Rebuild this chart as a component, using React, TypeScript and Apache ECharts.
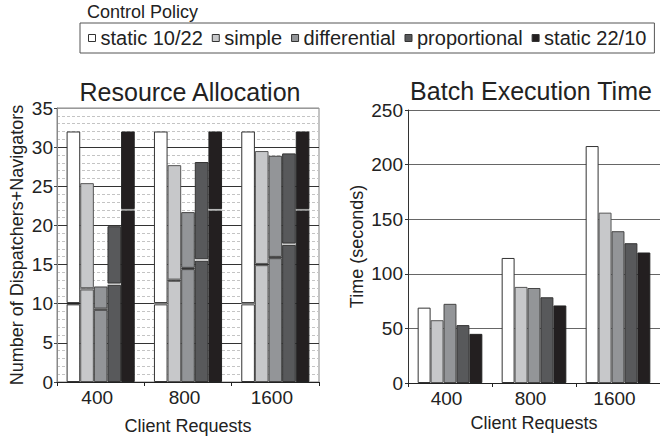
import React, { useEffect, useRef } from "react";
import * as echarts from "echarts";

const categories = ["400", "800", "1600"];
const policies = ["static 10/22", "simple", "differential", "proportional", "static 22/10"];
const colors = ["#ffffff", "#c7c8ca", "#939598", "#58595b", "#231f20"];
const borderColors = ["#333333", "#555555", "#444444", "#333333", "#222222"];
// colour of the split line inside each bar (policy x category)
const dividerColors = [
  ["#222222", "#888888", "#888888"],
  ["#666666", "#333333", "#333333"],
  ["#333333", "#333333", "#444444"],
  ["#c8c8c8", "#eeeeee", "#c8c8c8"],
  ["#aaaaaa", "#cccccc", "#aaaaaa"],
];

// Resource allocation: total (dispatchers + navigators) and the inner split line
const totalStatic1022 = [32, 32, 32];
const totalSimple = [25.4, 27.7, 29.5];
const totalDifferential = [12.2, 21.7, 28.9];
const totalProportional = [19.9, 28.1, 29.2];
const totalStatic2210 = [32, 32, 32];

const splitStatic1022 = [10, 10, 10];
const splitSimple = [11.9, 13.0, 15.0];
const splitDifferential = [9.3, 14.5, 15.9];
const splitProportional = [12.5, 15.6, 17.6];
const splitStatic2210 = [22, 22, 22];

// Batch execution time (seconds)
const timeStatic1022 = [69, 114.5, 217];
const timeSimple = [57.5, 88, 156];
const timeDifferential = [72.5, 87, 139];
const timeProportional = [53, 78.5, 128];
const timeStatic2210 = [45, 71, 119.5];

const allocTicks = [0, 5, 10, 15, 20, 25, 30, 35];
const timeTicks = [0, 50, 100, 150, 200, 250];

const totals = [totalStatic1022, totalSimple, totalDifferential, totalProportional, totalStatic2210];
const splits = [splitStatic1022, splitSimple, splitDifferential, splitProportional, splitStatic2210];
const times = [timeStatic1022, timeSimple, timeDifferential, timeProportional, timeStatic2210];

const FONT = "Liberation Sans, Arial, sans-serif";
const TXT = "#222222";
const DIV = 0.16; // thickness of the split line, in axis units

export default function App() {
  const ref = useRef<HTMLDivElement>(null);
  useEffect(() => {
    if (!ref.current) return;
    const chart = echarts.init(ref.current, undefined, { renderer: "svg" });

    const series: any[] = [];
    policies.forEach((p, i) => {
      const common = {
        name: p,
        type: "bar",
        xAxisIndex: 0,
        yAxisIndex: 0,
        stack: "alloc" + i,
        barGap: "0%",
        barCategoryGap: "22%",
        z: 3,
      };
      series.push({
        ...common,
        itemStyle: { color: colors[i], borderColor: borderColors[i], borderWidth: 1 },
        data: splits[i].map((s) => +(s - DIV / 2).toFixed(3)),
      });
      series.push({
        ...common,
        itemStyle: { color: dividerColors[i][0], borderWidth: 0 },
        data: splits[i].map((_, k) => ({ value: DIV, itemStyle: { color: dividerColors[i][k] } })),
      });
      series.push({
        ...common,
        itemStyle: { color: colors[i], borderColor: borderColors[i], borderWidth: 1 },
        data: totals[i].map((t, k) => +(t - splits[i][k] - DIV / 2).toFixed(3)),
      });
    });
    policies.forEach((p, i) => {
      series.push({
        name: p,
        type: "bar",
        xAxisIndex: 1,
        yAxisIndex: 1,
        barGap: "0%",
        barCategoryGap: "23%",
        z: 3,
        itemStyle: { color: colors[i], borderColor: borderColors[i], borderWidth: 1 },
        data: times[i],
      });
    });

    const xAxisCommon = {
      type: "category",
      data: categories,
      name: "Client Requests",
      nameLocation: "middle",
      nameTextStyle: { fontSize: 18, color: TXT, fontFamily: FONT },
      axisLine: { lineStyle: { color: "#222", width: 1 } },
      axisTick: { show: true, length: 4, alignWithLabel: false, lineStyle: { color: "#222" } },
      axisLabel: { fontSize: 19, color: TXT, fontFamily: FONT, margin: 6, padding: [0, 7, 0, 0] },
      splitLine: { show: false },
      z: 4,
    };

    chart.setOption({
      animation: false,
      backgroundColor: "#ffffff",
      textStyle: { fontFamily: FONT },
      legend: {
        data: policies,
        left: 80,
        top: 23,
        width: 575,
        orient: "horizontal",
        padding: [5, 8, 5, 8],
        itemGap: 9,
        itemWidth: 7,
        itemHeight: 7,
        icon: "rect",
        borderColor: "#555",
        borderWidth: 1,
        selectedMode: false,
        itemStyle: { borderColor: "#333", borderWidth: 1 },
        textStyle: { fontSize: 20, color: TXT, fontFamily: FONT },
      },
      graphic: [
        {
          type: "text",
          x: 87,
          y: 12,
          style: { text: "Control Policy", font: `18px ${FONT}`, fill: TXT, textVerticalAlign: "middle" },
        },
        {
          type: "text",
          x: 190,
          y: 92,
          style: { text: "Resource Allocation", font: `25px ${FONT}`, fill: TXT, textAlign: "center", textVerticalAlign: "middle" },
        },
        {
          type: "text",
          x: 531,
          y: 91,
          style: { text: "Batch Execution Time", font: `25px ${FONT}`, fill: TXT, textAlign: "center", textVerticalAlign: "middle" },
        },
      ],
      grid: [
        { left: 57, right: 341, top: 108, bottom: 57, show: true, borderColor: "#888", borderWidth: 1, containLabel: false, z: 0 },
        { left: 408, right: -5, top: 110, bottom: 57, containLabel: false, z: 0 },
      ],
      xAxis: [
        { ...xAxisCommon, gridIndex: 0, nameGap: 35 },
        { ...xAxisCommon, gridIndex: 1, nameGap: 31 },
      ],
      yAxis: [
        {
          type: "value",
          gridIndex: 0,
          min: allocTicks[0],
          max: allocTicks[allocTicks.length - 1],
          interval: 5,
          z: 1,
          name: "Number of Dispatchers+Navigators",
          nameLocation: "middle",
          nameGap: 31,
          nameTextStyle: { fontSize: 18, color: TXT, fontFamily: FONT },
          axisLine: { show: true, lineStyle: { color: "#888" } },
          axisTick: { show: true, length: 3, lineStyle: { color: "#444" } },
          axisLabel: { fontSize: 19, color: TXT, fontFamily: FONT, margin: 4 },
          splitLine: {
            show: true,
            lineStyle: { color: ["#444", "#333", "#333", "#333", "#333", "#333", "#333", "#999"], width: 1 },
          },
        },
        {
          type: "value",
          gridIndex: 1,
          min: timeTicks[0],
          max: timeTicks[timeTicks.length - 1],
          interval: 50,
          z: 1,
          name: "Time (seconds)",
          nameLocation: "middle",
          nameGap: 42,
          nameTextStyle: { fontSize: 18, color: TXT, fontFamily: FONT },
          axisLine: { show: true, lineStyle: { color: "#333" } },
          axisTick: { show: true, length: 3, lineStyle: { color: "#333" } },
          axisLabel: { fontSize: 19, color: TXT, fontFamily: FONT, margin: 5 },
          splitLine: { show: true, lineStyle: { color: "#666", width: 1 } },
        },
        {
          // minor dashed grid of the left chart (one line per unit)
          type: "value",
          gridIndex: 0,
          min: allocTicks[0],
          max: allocTicks[allocTicks.length - 1],
          interval: 1,
          z: 0,
          position: "left",
          axisLine: { show: false },
          axisTick: { show: false },
          axisLabel: { show: false },
          splitLine: { show: true, lineStyle: { color: "#c4c4c4", type: [3, 2], width: 1 } },
        },
      ],
      series,
    });
    return () => chart.dispose();
  }, []);
  return (
    <div
      ref={ref}
      style={{ position: "absolute", left: 0, top: 0, width: 660, height: 440, background: "#fff" }}
    />
  );
}
